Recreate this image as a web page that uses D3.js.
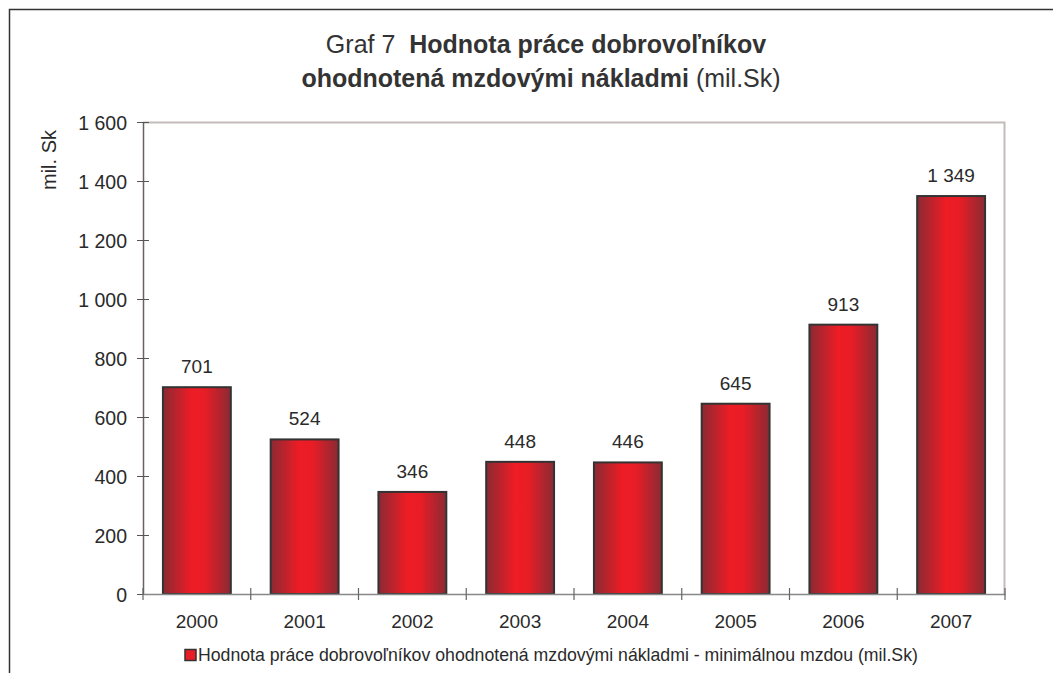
<!DOCTYPE html>
<html>
<head>
<meta charset="utf-8">
<script src="https://cdn.jsdelivr.net/npm/d3@7"></script>
<style>
  html, body { margin: 0; padding: 0; background: #fff; }
  svg { display: block; font-family: "Liberation Sans", Arial, sans-serif; }
</style>
</head>
<body>
<svg id="chart" width="1053" height="673"></svg>
<script>
const categories = ["2000", "2001", "2002", "2003", "2004", "2005", "2006", "2007"];
const values = [701, 524, 346, 448, 446, 645, 913, 1349];
const yTicks = [0, 200, 400, 600, 800, 1000, 1200, 1400, 1600];
const seriesName = "Hodnota práce dobrovoľníkov ohodnotená mzdovými nákladmi - minimálnou mzdou (mil.Sk)";
const yLabel = "mil. Sk";

const svg = d3.select("#chart");
const margin = { left: 143, right: 1005, top: 122, bottom: 594 };

const fmt = v => d3.format(",")(v).replace(/,/g, " ");

// outer frame
svg.append("rect").attr("x", 9.5).attr("y", 9.5).attr("width", 1100).attr("height", 700)
  .attr("fill", "none").attr("stroke", "#333").attr("stroke-width", 1.5);

// gradient
const defs = svg.append("defs");
const grad = defs.append("linearGradient").attr("id", "barGrad").attr("x1", "0").attr("x2", "1").attr("y1", "0").attr("y2", "0");
grad.append("stop").attr("offset", "0%").attr("stop-color", "#8a2a33");
grad.append("stop").attr("offset", "42%").attr("stop-color", "#ee1c25");
grad.append("stop").attr("offset", "62%").attr("stop-color", "#e81d26");
grad.append("stop").attr("offset", "100%").attr("stop-color", "#8a2a33");

const x = d3.scaleBand().domain(categories).range([margin.left, margin.right]).paddingInner(0.37).paddingOuter(0.185);
const xBand = d3.scaleBand().domain(categories).range([margin.left, margin.right]);
const y = d3.scaleLinear().domain([0, 1600]).range([margin.bottom, margin.top]);

// plot border top/right
svg.append("path")
  .attr("d", `M${margin.left},${margin.top + 0.5}H${margin.right - 0.5}V${margin.bottom}`)
  .attr("fill", "none").attr("stroke", "#c4bcbc").attr("stroke-width", 2);

// bars
svg.append("g").selectAll("rect").data(values).join("rect")
  .attr("x", (d, i) => x(categories[i]))
  .attr("y", d => y(d))
  .attr("width", x.bandwidth())
  .attr("height", d => y(0) - y(d))
  .attr("fill", "url(#barGrad)")
  .attr("stroke", "#333").attr("stroke-width", 2);

// data labels
svg.append("g").selectAll("text").data(values).join("text")
  .attr("x", (d, i) => x(categories[i]) + x.bandwidth() / 2)
  .attr("y", d => y(d) - 14)
  .attr("text-anchor", "middle")
  .attr("font-size", 19).attr("fill", "#2a2a2a")
  .text(d => fmt(d));

// y axis
const yAxis = d3.axisLeft(y).tickValues(yTicks).tickFormat(fmt).tickSizeInner(6).tickSizeOuter(0);
const gy = svg.append("g").attr("transform", `translate(${margin.left},0)`).call(yAxis);
gy.select(".domain").attr("stroke", "#6a6262").attr("stroke-width", 1.5);
gy.selectAll(".tick line").attr("stroke", "#555").attr("x1", -6).attr("x2", 6);
gy.selectAll(".tick text").attr("x", -16).attr("dy", "0.36em").attr("font-size", 19.5)
  .attr("font-family", "Liberation Sans, Arial, sans-serif").attr("fill", "#2a2a2a");

// x axis
const xAxis = d3.axisBottom(xBand).tickSize(0).tickSizeOuter(0);
const gx = svg.append("g").attr("transform", `translate(0,${margin.bottom})`).call(xAxis);
gx.select(".domain").attr("stroke", "#888").attr("stroke-width", 1.5);
gx.selectAll(".tick line").remove();
gx.selectAll(".tick text").attr("y", 34).attr("dy", 0).attr("font-size", 19)
  .attr("font-family", "Liberation Sans, Arial, sans-serif").attr("fill", "#2a2a2a");
// category separator ticks
const sepPos = categories.map(c => xBand(c)).concat([margin.right]);
svg.append("g").selectAll("line").data(sepPos).join("line")
  .attr("x1", d => d).attr("x2", d => d)
  .attr("y1", margin.bottom - 6).attr("y2", margin.bottom + 6)
  .attr("stroke", "#666").attr("stroke-width", 1.2);

// y label
svg.append("text").attr("transform", "translate(56,160) rotate(-90)")
  .attr("text-anchor", "middle").attr("font-size", 20).attr("fill", "#2a2a2a").text(yLabel);

// title
const title = svg.append("text").attr("text-anchor", "middle").attr("fill", "#333").attr("font-size", 25);
const t1 = title.append("tspan").attr("x", 546).attr("y", 53);
t1.append("tspan").text("Graf 7\u00A0 ");
t1.append("tspan").attr("font-weight", "bold").text("Hodnota práce dobrovoľníkov");
const t2 = title.append("tspan").attr("x", 541).attr("y", 87);
t2.append("tspan").attr("font-weight", "bold").text("ohodnotená mzdovými nákladmi");
t2.append("tspan").text(" (mil.Sk)");

// legend
svg.append("rect").attr("x", 185).attr("y", 649.5).attr("width", 11).attr("height", 11)
  .attr("fill", "#e81d26").attr("stroke", "#333").attr("stroke-width", 1.5);
svg.append("text").attr("x", 198).attr("y", 661).attr("font-size", 17.7).attr("fill", "#2a2a2a").text(seriesName);
</script>
</body>
</html>
